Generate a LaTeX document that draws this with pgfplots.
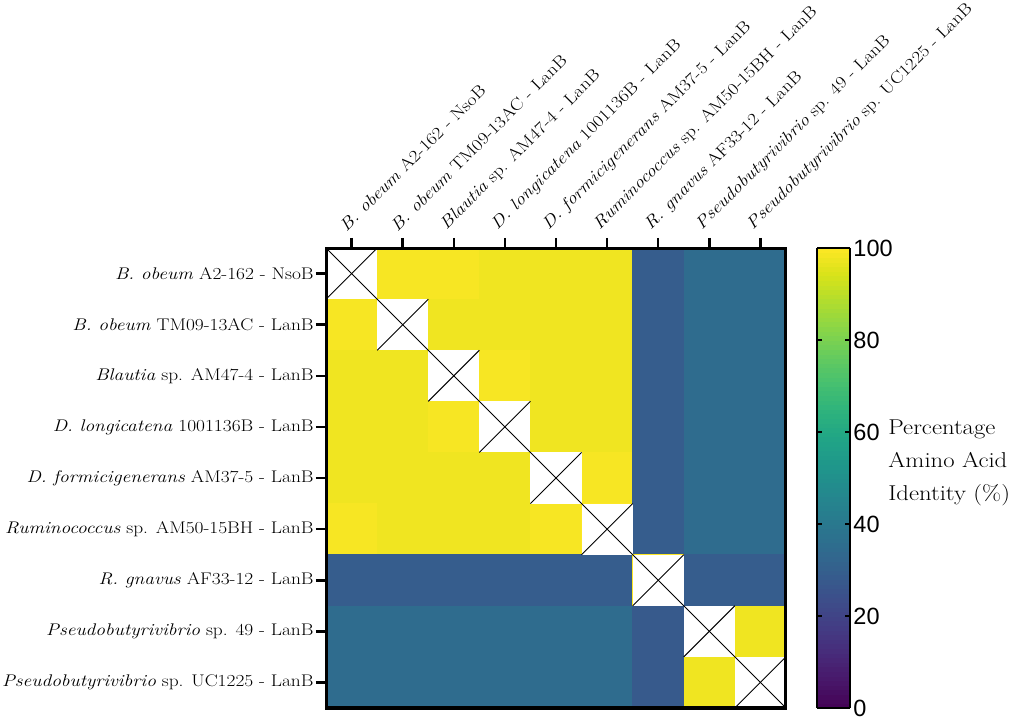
\documentclass[border=0pt]{standalone}
\usepackage{pgfplots}
\pgfplotsset{compat=1.18}
\usepackage{fontspec}
\setmainfont{Latin Modern Roman}[FakeStretch=1.15]
\setsansfont{Liberation Sans}
\begin{document}
\begin{tikzpicture}
\begin{axis}[
  scale only axis, width=450pt, height=450pt,
  xmin=0.5, xmax=9.5, ymin=0.5, ymax=9.5,
  y dir=reverse,
  enlargelimits=false,
  axis line style={line width=3pt},
  xtick={1,...,9}, ytick={1,...,9},
  xtick pos=upper, xticklabel pos=upper,
  ytick pos=left,
  tick align=outside,
  major tick length=10pt,
  every tick/.style={black, line width=2.5pt},
  xticklabels={{\textit{B. obeum} A2-162 - NsoB},{\textit{B. obeum} TM09-13AC - LanB},{\textit{Blautia} sp. AM47-4 - LanB},{\textit{D. longicatena} 1001136B - LanB},{\textit{D. formicigenerans} AM37-5 - LanB},{\textit{Ruminococcus} sp. AM50-15BH - LanB},{\textit{R. gnavus} AF33-12 - LanB},{\textit{Pseudobutyrivibrio} sp. 49 - LanB},{\textit{Pseudobutyrivibrio} sp. UC1225 - LanB}},
  yticklabels={{\textit{B. obeum} A2-162 - NsoB},{\textit{B. obeum} TM09-13AC - LanB},{\textit{Blautia} sp. AM47-4 - LanB},{\textit{D. longicatena} 1001136B - LanB},{\textit{D. formicigenerans} AM37-5 - LanB},{\textit{Ruminococcus} sp. AM50-15BH - LanB},{\textit{R. gnavus} AF33-12 - LanB},{\textit{Pseudobutyrivibrio} sp. 49 - LanB},{\textit{Pseudobutyrivibrio} sp. UC1225 - LanB}},
  xticklabel style={font=\fontsize{16.5}{19}\selectfont, rotate=45, anchor=south west, xshift=-1pt, yshift=6pt, inner sep=1pt},
  yticklabel style={font=\fontsize{16.5}{19}\selectfont, inner sep=2pt},
  colormap/viridis,
  point meta min=0, point meta max=100,
  colorbar sampled,
  colorbar style={
    samples=101,
    width=32pt,
    at={(parent axis.north east)}, anchor=north west, xshift=22pt,
    ytick={0,20,40,60,80,100},
    axis line style={line width=2.5pt},
    ytick pos=both, yticklabel pos=right,
    tick align=inside,
    major tick length=5pt,
    every tick/.style={black, line width=2pt},
    yticklabel style={font=\sffamily\fontsize{23}{23}\selectfont, /pgf/number format/assume math mode=true},
  },
  clip=false,
]
\addplot[matrix plot*, mesh/cols=9, point meta=explicit] table[meta=c] {
x y c
1 1 100
2 1 99
3 1 99
4 1 98
5 1 98
6 1 98
7 1 29
8 1 35
9 1 35
1 2 99
2 2 100
3 2 98
4 2 98
5 2 98
6 2 98
7 2 29
8 2 35
9 2 35
1 3 98
2 3 98
3 3 100
4 3 99
5 3 98
6 3 98
7 3 29
8 3 35
9 3 35
1 4 98
2 4 98
3 4 99
4 4 100
5 4 98
6 4 98
7 4 29
8 4 35
9 4 35
1 5 98
2 5 98
3 5 98
4 5 98
5 5 100
6 5 99
7 5 29
8 5 35
9 5 35
1 6 99
2 6 98
3 6 98
4 6 98
5 6 99
6 6 100
7 6 29
8 6 35
9 6 35
1 7 29
2 7 29
3 7 29
4 7 29
5 7 29
6 7 29
7 7 100
8 7 29
9 7 29
1 8 35
2 8 35
3 8 35
4 8 35
5 8 35
6 8 35
7 8 28
8 8 100
9 8 98
1 9 35
2 9 35
3 9 35
4 9 35
5 9 35
6 9 35
7 9 28
8 9 98
9 9 100
};
% white diagonal cells
\addplot[fill=white, draw=none] coordinates {(0.5,0.5)(1.5,0.5)(1.5,1.5)(0.5,1.5)} -- cycle;
\addplot[fill=white, draw=none] coordinates {(1.5,1.5)(2.5,1.5)(2.5,2.5)(1.5,2.5)} -- cycle;
\addplot[fill=white, draw=none] coordinates {(2.5,2.5)(3.5,2.5)(3.5,3.5)(2.5,3.5)} -- cycle;
\addplot[fill=white, draw=none] coordinates {(3.5,3.5)(4.5,3.5)(4.5,4.5)(3.5,4.5)} -- cycle;
\addplot[fill=white, draw=none] coordinates {(4.5,4.5)(5.5,4.5)(5.5,5.5)(4.5,5.5)} -- cycle;
\addplot[fill=white, draw=none] coordinates {(5.5,5.5)(6.5,5.5)(6.5,6.5)(5.5,6.5)} -- cycle;
\addplot[fill=white, draw=none] coordinates {(6.5,6.5)(7.5,6.5)(7.5,7.5)(6.5,7.5)} -- cycle;
\addplot[fill=white, draw=none] coordinates {(7.5,7.5)(8.5,7.5)(8.5,8.5)(7.5,8.5)} -- cycle;
\addplot[fill=white, draw=none] coordinates {(8.5,8.5)(9.5,8.5)(9.5,9.5)(8.5,9.5)} -- cycle;
% crosses
\addplot[black, line width=0.9pt] coordinates {(0.5,0.5)(9.5,9.5)};
\addplot[black, line width=0.9pt, unbounded coords=jump] coordinates {
(0.5,1.5)(1.5,0.5)(nan,nan)
(1.5,2.5)(2.5,1.5)(nan,nan)
(2.5,3.5)(3.5,2.5)(nan,nan)
(3.5,4.5)(4.5,3.5)(nan,nan)
(4.5,5.5)(5.5,4.5)(nan,nan)
(5.5,6.5)(6.5,5.5)(nan,nan)
(6.5,7.5)(7.5,6.5)(nan,nan)
(7.5,8.5)(8.5,7.5)(nan,nan)
(8.5,9.5)(9.5,8.5)
};
\draw[line width=3pt] (rel axis cs:0,0) rectangle (rel axis cs:1,1);
\node[anchor=west, align=left, inner sep=0pt, font=\fontsize{21}{32}\selectfont] at (axis cs:11.5,4.7) {Percentage\\Amino Acid\\Identity (\%)};
\end{axis}
\end{tikzpicture}
\end{document}
